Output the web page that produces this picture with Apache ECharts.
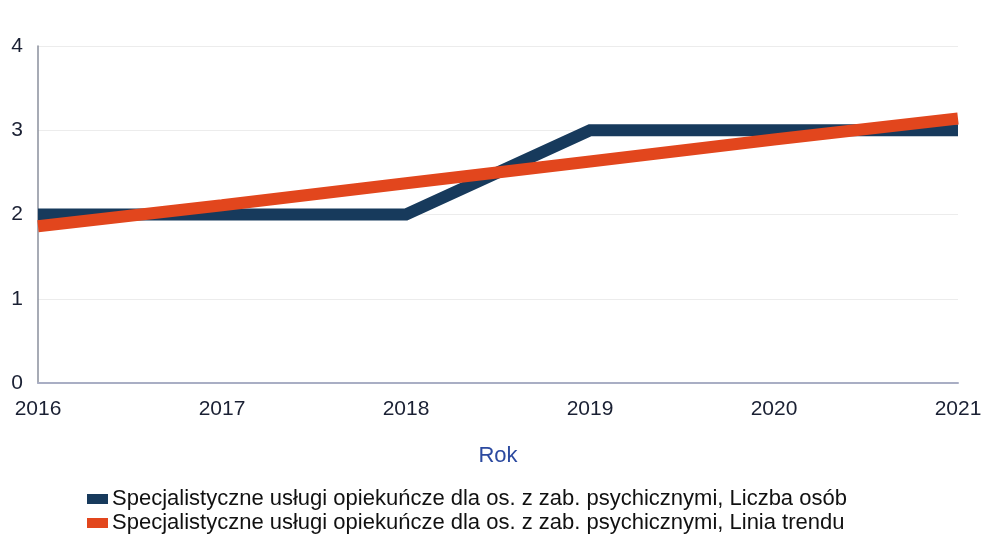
<!DOCTYPE html>
<html>
<head>
<meta charset="utf-8">
<script src="https://cdn.jsdelivr.net/npm/echarts@6/dist/echarts.min.js"></script>
<style>
  html, body { margin: 0; padding: 0; background: #fff; }
  #chart { width: 987px; height: 540px; }
</style>
</head>
<body>
<div id="chart"></div>
<script>
// data
const years = ['2016', '2017', '2018', '2019', '2020', '2021'];
const liczbaOsob = [2, 2, 2, 3, 3, 3];
const liniaTrendu = [1.86, 2.11, 2.37, 2.63, 2.89, 3.14];
const seriesNames = [
  'Specjalistyczne usługi opiekuńcze dla os. z zab. psychicznymi, Liczba osób',
  'Specjalistyczne usługi opiekuńcze dla os. z zab. psychicznymi, Linia trendu'
];

const chart = echarts.init(document.getElementById('chart'));
const font = '"Liberation Sans", Arial, sans-serif';

const option = {
  animation: false,
  grid: { left: 38, right: 29, top: 46, bottom: 157 },
  xAxis: {
    type: 'category',
    data: years,
    boundaryGap: false,
    name: 'Rok',
    nameLocation: 'middle',
    nameGap: 62,
    nameTextStyle: { color: '#2c4aa0', fontSize: 22, fontFamily: font },
    axisLine: { lineStyle: { color: '#a9aec4', width: 2 } },
    axisTick: { show: false },
    axisLabel: { color: '#1a2033', fontSize: 21, fontFamily: font, margin: 16 }
  },
  yAxis: {
    type: 'value',
    min: 0,
    max: 4,
    interval: 1,
    axisLine: { show: true, lineStyle: { color: '#8a8f9c', width: 1.5 } },
    axisTick: { show: false },
    splitLine: { lineStyle: { color: '#ececec', width: 1 } },
    axisLabel: { color: '#1a2033', fontSize: 21, fontFamily: font, margin: 15 }
  },
  legend: {
    orient: 'vertical',
    left: 87,
    top: 487,
    padding: 0,
    itemWidth: 21,
    itemHeight: 10,
    itemGap: 0,
    icon: 'rect',
    textStyle: { color: '#111', fontSize: 22, lineHeight: 24, fontFamily: font, padding: [0, 0, 0, -1] },
    data: seriesNames
  },
  series: [
    {
      name: seriesNames[0],
      type: 'line',
      data: liczbaOsob,
      symbol: 'none',
      lineStyle: { color: '#173a5c', width: 12, cap: 'butt', join: 'miter' },
      itemStyle: { color: '#173a5c' }
    },
    {
      name: seriesNames[1],
      type: 'line',
      data: liniaTrendu,
      symbol: 'none',
      lineStyle: { color: '#e2461d', width: 12, cap: 'butt' },
      itemStyle: { color: '#e2461d' }
    }
  ]
};

chart.setOption(option);
</script>
</body>
</html>
